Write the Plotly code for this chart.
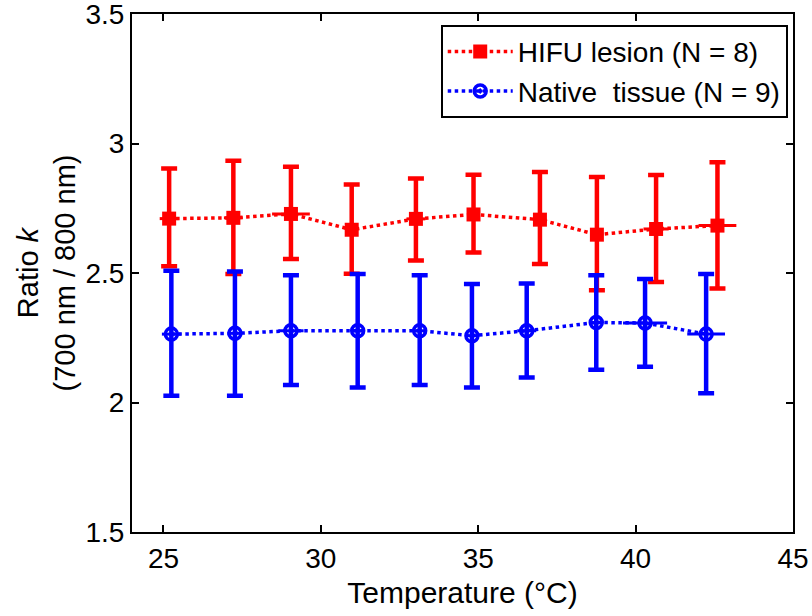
import plotly.graph_objects as go

# Data
temp_hifu = [25.18, 27.22, 29.05, 30.98, 33.02, 34.85, 36.96, 38.77, 40.65, 42.6]
k_hifu = [2.71, 2.713, 2.728, 2.667, 2.709, 2.726, 2.706, 2.648, 2.67, 2.683]
k_hifu_up = [2.903, 2.933, 2.91, 2.842, 2.865, 2.879, 2.89, 2.871, 2.878, 2.928]
k_hifu_lo = [2.526, 2.496, 2.554, 2.497, 2.548, 2.579, 2.535, 2.433, 2.465, 2.44]
temp_hifu_err = [0.3, 0.3, 0.6, 0.2, 0.3, 0.2, 0.2, 0.2, 0.4, 0.6]

temp_native = [25.25, 27.27, 29.05, 31.17, 33.14, 34.8, 36.54, 38.75, 40.3, 42.24]
k_native = [2.264, 2.267, 2.277, 2.277, 2.277, 2.258, 2.277, 2.309, 2.307, 2.264]
k_native_up = [2.509, 2.506, 2.491, 2.496, 2.491, 2.458, 2.459, 2.491, 2.477, 2.496]
k_native_lo = [2.026, 2.026, 2.068, 2.058, 2.068, 2.058, 2.097, 2.126, 2.138, 2.036]
temp_native_err = [0.3, 0.2, 0.4, 0.2, 0.2, 0.2, 0.3, 0.2, 0.7, 0.6]

x_ticks = [25, 30, 35, 40, 45]
y_ticks = [1.5, 2, 2.5, 3, 3.5]

FONT = "Liberation Sans, Arial, sans-serif"


def err(vals, bounds, upper):
    return [(b - v) if upper else (v - b) for v, b in zip(vals, bounds)]


fig = go.Figure()

fig.add_trace(go.Scatter(
    x=temp_hifu, y=k_hifu, mode="lines+markers", name="HIFU lesion (N = 8)",
    line=dict(color="#ff0000", width=3.5, dash="dot"),
    marker=dict(symbol="square", size=14, color="#ff0000"),
    error_y=dict(type="data", symmetric=False,
                 array=err(k_hifu, k_hifu_up, True),
                 arrayminus=err(k_hifu, k_hifu_lo, False),
                 color="#ff0000", thickness=4.5, width=8),
    error_x=dict(type="data", array=temp_hifu_err, color="#ff0000",
                 thickness=3, width=0),
))

fig.add_trace(go.Scatter(
    x=temp_native, y=k_native, mode="lines+markers", name="Native  tissue (N = 9)",
    line=dict(color="#0000ff", width=3.5, dash="dot"),
    marker=dict(symbol="circle-open-dot", size=12, color="#0000ff",
                line=dict(width=3.5, color="#0000ff")),
    error_y=dict(type="data", symmetric=False,
                 array=err(k_native, k_native_up, True),
                 arrayminus=err(k_native, k_native_lo, False),
                 color="#0000ff", thickness=4.5, width=8),
    error_x=dict(type="data", array=temp_native_err, color="#0000ff",
                 thickness=3, width=0),
))

axis_common = dict(
    showgrid=False, zeroline=False, showline=True, linecolor="black",
    linewidth=2, mirror="allticks", ticks="inside", ticklen=7,
    tickwidth=2, tickcolor="black", automargin=False,
    ticklabeloverflow="allow",
    tickfont=dict(family=FONT, size=28, color="black"),
)

fig.update_layout(
    width=812, height=616,
    margin=dict(l=132, r=19, t=14, b=84),
    paper_bgcolor="white", plot_bgcolor="white",
    font=dict(family=FONT, color="black"),
    xaxis=dict(range=[24, 45], tickvals=x_ticks, ticktext=[str(v) for v in x_ticks],
               title=dict(text="Temperature (°C)", font=dict(family=FONT, size=30), standoff=9),
               **axis_common),
    yaxis=dict(range=[1.5, 3.5], tickvals=y_ticks, ticktext=[str(v) for v in y_ticks],
               title=dict(text="Ratio <i>k</i><br>(700 nm / 800 nm)", font=dict(family=FONT, size=29), standoff=1),
               **axis_common),
    legend=dict(x=0.992, y=0.979, xanchor="right", yanchor="top",
                bgcolor="white", bordercolor="black", borderwidth=2,
                font=dict(family=FONT, size=28, color="black"),
                itemwidth=65, tracegroupgap=0),
    showlegend=True,
)

fig.write_html("out.html", config={"displayModeBar": False},
               post_script="document.body.style.margin='0';document.body.style.overflow='hidden';")
